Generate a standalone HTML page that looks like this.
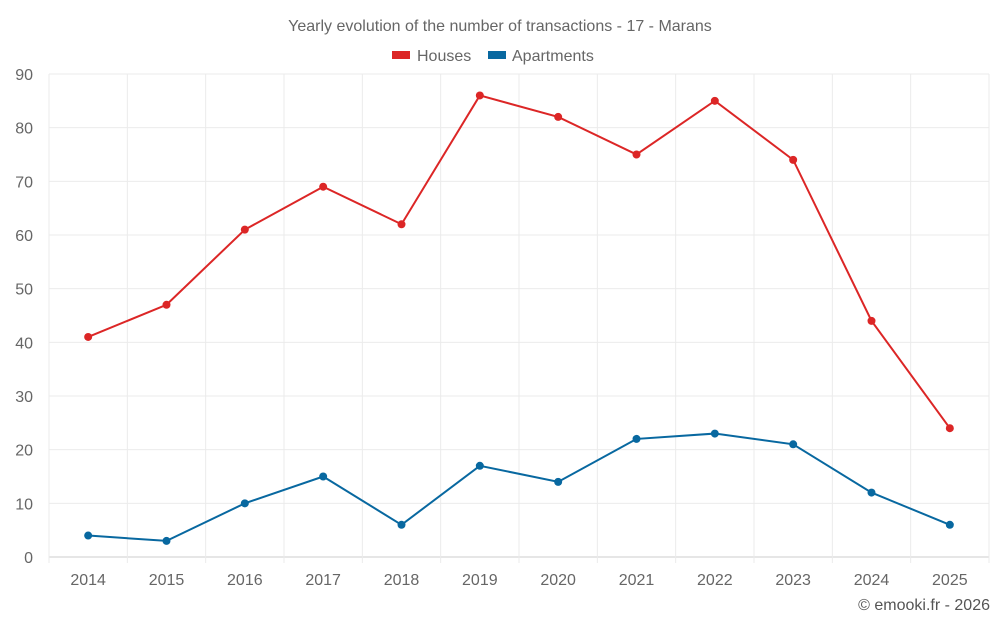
<!DOCTYPE html>
<html><head><meta charset="utf-8"><style>
body{margin:0;background:#fff;}
svg{display:block;font-family:"Liberation Sans",sans-serif;}
</style></head><body>
<svg id="c" width="1000" height="625">
<text x="500" y="31" text-anchor="middle" font-size="16" fill="#666">Yearly evolution of the number of transactions - 17 - Marans</text>
<g><rect x="392" y="51" width="18" height="8" fill="#dc2626"/><text x="417" y="61" font-size="16" fill="#666">Houses</text></g>
<g><rect x="488" y="51" width="18" height="8" fill="#0868a0"/><text x="512" y="61" font-size="16" fill="#666">Apartments</text></g>
<g id="grid"></g><g id="axes"></g><g id="series"></g>
<text x="990" y="610" text-anchor="end" font-size="16" fill="#555">© emooki.fr - 2026</text>
</svg>
<script>
const categories=["2014","2015","2016","2017","2018","2019","2020","2021","2022","2023","2024","2025"];
const houses=[41,47,61,69,62,86,82,75,85,74,44,24];
const apartments=[4,3,10,15,6,17,14,22,23,21,12,6];
const yTicks=[0,10,20,30,40,50,60,70,80,90];
const NS="http://www.w3.org/2000/svg";
const L=49,R=989,T=74,B=557,yMax=90;
const bw=(R-L)/categories.length;
const x=i=>L+bw*(i+0.5);
const y=v=>B-(v/yMax)*(B-T);
function mk(tag,attrs,parent){const e=document.createElementNS(NS,tag);for(const k in attrs)e.setAttribute(k,attrs[k]);parent.appendChild(e);return e;}
const grid=document.getElementById('grid'),axes=document.getElementById('axes'),ser=document.getElementById('series');
yTicks.forEach(t=>{
 const l=mk('line',{x1:L,x2:R,y1:y(t),y2:y(t),stroke:t===0?'#ccc':'#ebebeb'},grid);
 
 
 const tx=mk('text',{x:33,y:y(t)+6,'text-anchor':'end','font-size':16,fill:'#666'},axes);
 tx.textContent=t;
 
 
});
for(let i=0;i<=categories.length;i++){
 const l=mk('line',{x1:L+bw*i,x2:L+bw*i,y1:T,y2:B+6,stroke:'#ebebeb'},grid);
 
 
}
categories.forEach((c,i)=>{
 const tx=mk('text',{x:x(i),y:585,'text-anchor':'middle','font-size':16,fill:'#666'},axes);
 tx.textContent=c;
 
 
});
function draw(data,color,name){
 const p=mk('polyline',{points:data.map((v,i)=>x(i)+','+y(v)).join(' '),fill:'none',stroke:color,'stroke-width':2},ser);
 
 
 data.forEach((v,i)=>{
  const c=mk('circle',{cx:x(i),cy:y(v),r:4,fill:color},ser);
  
  
 });
}
draw(houses,'#dc2626','houses');
draw(apartments,'#0868a0','apartments');
</script>
</body></html>
